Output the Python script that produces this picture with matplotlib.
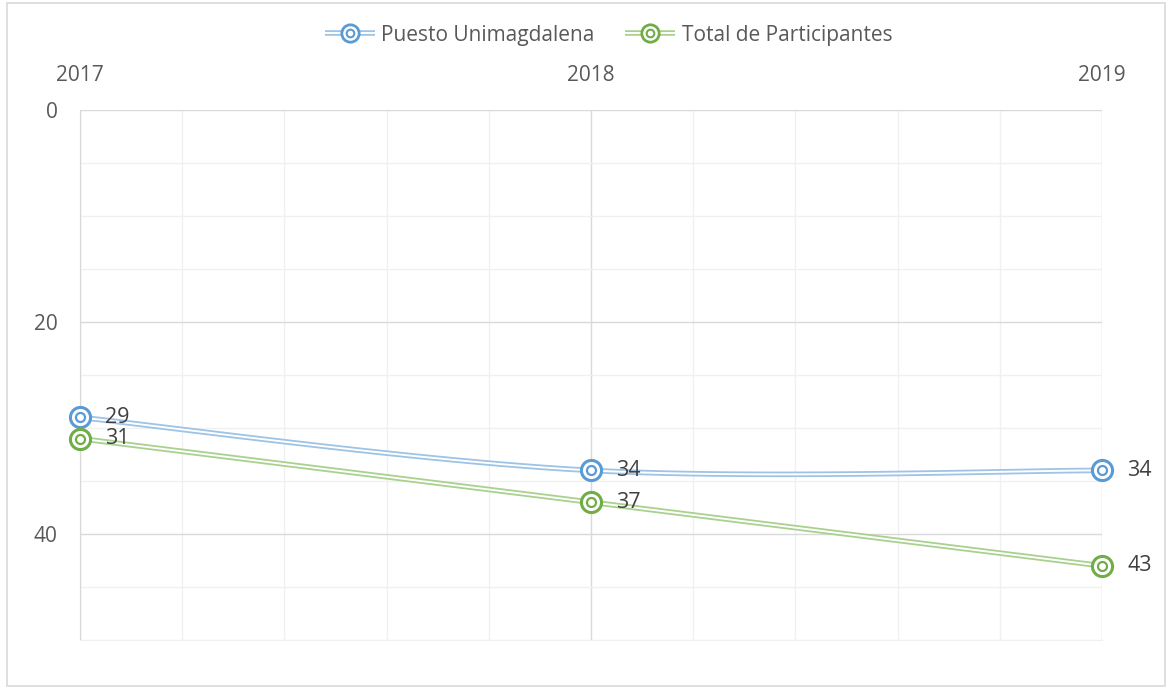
import matplotlib.pyplot as plt
import numpy as np
from matplotlib.patches import Rectangle
from matplotlib.legend_handler import HandlerTuple
from matplotlib.lines import Line2D

years = [2017, 2018, 2019]
puesto = [29, 34, 34]
participantes = [31, 37, 43]
series_names = ["Puesto Unimagdalena", "Total de Participantes"]
colors = ["#5B9BD5", "#70AD47"]
line_colors = ["#9DC3E6", "#A9D18E"]

plt.rcParams["font.family"] = ["Open Sans", "DejaVu Sans"]
TXT = "#595959"


def smooth(x, y, n=60):
    # Bezier smoothing similar to office charts
    x = np.asarray(x, float)
    y = np.asarray(y, float)
    px, py = [], []
    for i in range(len(x) - 1):
        x0, y0 = (x[i - 1], y[i - 1]) if i > 0 else (x[i], y[i])
        x3, y3 = (x[i + 2], y[i + 2]) if i + 2 < len(x) else (x[i + 1], y[i + 1])
        c1x = x[i] + (x[i + 1] - x0) / 6
        c1y = y[i] + (y[i + 1] - y0) / 6
        c2x = x[i + 1] - (x3 - x[i]) / 6
        c2y = y[i + 1] - (y3 - y[i]) / 6
        t = np.linspace(0, 1, n)
        bx = (1 - t) ** 3 * x[i] + 3 * (1 - t) ** 2 * t * c1x + 3 * (1 - t) * t ** 2 * c2x + t ** 3 * x[i + 1]
        by = (1 - t) ** 3 * y[i] + 3 * (1 - t) ** 2 * t * c1y + 3 * (1 - t) * t ** 2 * c2y + t ** 3 * y[i + 1]
        px.extend(bx)
        py.extend(by)
    return np.array(px), np.array(py)


fig = plt.figure(figsize=(11.7, 6.89), dpi=100)
fig.patches.append(Rectangle((0.006, 0.004), 0.99, 0.992, transform=fig.transFigure,
                             fill=False, edgecolor="#D9D9D9", linewidth=1.2))
ax = fig.add_axes([0.0684, 0.0711, 0.8735, 0.7692])

ax.set_xlim(2017, 2019)
ax.set_ylim(50, 0)
ax.set_xticks(years)
ax.set_xticks(np.arange(2017, 2019.01, 0.2), minor=True)
ax.set_yticks([0, 20, 40])
ax.set_yticks(np.arange(0, 51, 5), minor=True)
ax.grid(which="minor", color="#F0F0F0", linewidth=1.0)
ax.grid(which="major", color="#D9D9D9", linewidth=1.0)
ax.set_axisbelow(True)
ax.xaxis.tick_top()
ax.tick_params(axis="both", which="both", length=0)
ax.tick_params(axis="x", pad=17, labelsize=15, labelcolor=TXT)
ax.tick_params(axis="y", pad=16, labelsize=15, labelcolor=TXT)
for side in ["top", "right"]:
    ax.spines[side].set_visible(False)
ax.spines["left"].set_color("#D9D9D9")
ax.spines["bottom"].set_color("#F0F0F0")

handles = []
for vals, name, c, lc in zip([puesto, participantes], series_names, colors, line_colors):
    sx, sy = smooth(years, vals)
    ax.plot(sx, sy, color=lc, linewidth=4.0, solid_capstyle="butt", zorder=3, clip_on=False)
    ax.plot(sx, sy, color="white", linewidth=1.4, solid_capstyle="butt", zorder=3, clip_on=False)
    ax.plot(years, vals, linestyle="none", marker="o", markersize=14.5, markerfacecolor="white",
            markeredgecolor=c, markeredgewidth=2.2, zorder=4, clip_on=False)
    ax.plot(years, vals, linestyle="none", marker="o", markersize=6.5, markerfacecolor="white",
            markeredgecolor=c, markeredgewidth=1.6, zorder=5, clip_on=False)
    for xv, yv in zip(years, vals):
        ax.annotate(str(yv), (xv, yv), xytext=(18, 0), textcoords="offset points",
                    ha="left", va="center", fontsize=15.5, color="#404040", zorder=6)
    h = (
        Line2D([], [], color=lc, linewidth=4.0, solid_capstyle="butt"),
        Line2D([], [], color="white", linewidth=1.4, solid_capstyle="butt"),
        Line2D([], [], linestyle="none", marker="o", markersize=12.5, markerfacecolor="white",
               markeredgecolor=c, markeredgewidth=2.0),
        Line2D([], [], linestyle="none", marker="o", markersize=5.5, markerfacecolor="white",
               markeredgecolor=c, markeredgewidth=1.5),
    )
    handles.append(h)

leg = fig.legend(handles, series_names, loc="center", bbox_to_anchor=(0.52, 0.949), ncol=2,
                 frameon=False, fontsize=15, labelcolor=TXT, handlelength=2.4,
                 columnspacing=1.5, handletextpad=0.3,
                 handler_map={tuple: HandlerTuple(ndivide=1, pad=0)})

fig.savefig("out.png", dpi=100, facecolor="white")
